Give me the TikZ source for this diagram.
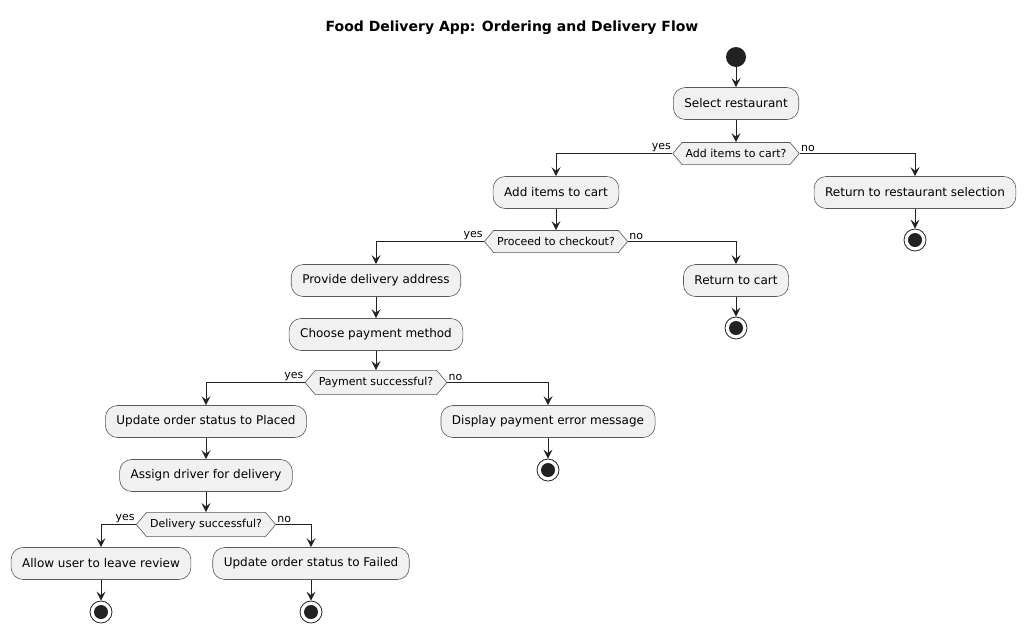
\documentclass[tikz,border=0pt]{standalone}
\usepackage{fontspec}
\setmainfont{DejaVu Sans}
\usetikzlibrary{shapes.symbols,arrows.meta,positioning}
\definecolor{actfill}{HTML}{F1F1F1}
\definecolor{ink}{HTML}{222222}

\begin{document}
\begin{tikzpicture}[x=1pt, y=-1pt,
  action/.style={draw=black!65, fill=actfill, line width=.6pt, rounded corners=12pt, minimum height=32pt, inner xsep=11pt, font=\fontsize{12}{14}\selectfont},
  decide/.style={signal, signal to=west and east, signal pointer angle=100, draw=black!65, fill=actfill, line width=.6pt, inner xsep=3.5pt, inner ysep=6.8pt, font=\fontsize{11}{13}\selectfont},
  initnode/.style={circle, fill=ink, minimum size=20pt, inner sep=0pt},
  endnode/.style={circle, draw=ink, line width=.8pt, minimum size=22pt, inner sep=0pt,
    path picture={\fill[ink] (path picture bounding box.center) circle (7pt);}},
  flow/.style={draw=ink, line width=.9pt, -{Stealth[length=9pt, width=9pt, inset=3.5pt]}},
  lbl/.style={font=\fontsize{11}{13}\selectfont, inner sep=1pt}]
  \useasboundingbox (0,0) rectangle (1024,633);

  % title
  \node[font=\fontsize{14}{16}\selectfont\bfseries] (title) at (512,28) {Food Delivery App: Ordering and Delivery Flow};

  % restaurant and cart
  \node[initnode] (begin) at (736,57) {};
  \node[action] (selrest) at (736,103.5) {Select restaurant};
  \node[decide] (additems) at (736,153.5) {Add items to cart?};
  \node[action] (cart) at (556,192.5) {Add items to cart};
  \node[action] (backrest) at (915,192.5) {Return to restaurant selection};
  \node[endnode] (end1) at (915,240) {};
  \node[decide] (checkout) at (556,241.5) {Proceed to checkout?};
  \node[action] (backcart) at (736,280.5) {Return to cart};
  \node[endnode] (end2) at (736,328) {};

  % address and payment
  \node[action] (address) at (376,280.5) {Provide delivery address};
  \node[action] (paymethod) at (376,334.5) {Choose payment method};
  \node[decide] (payok) at (376,382.5) {Payment successful?};
  \node[action] (placed) at (206,421.5) {Update order status to Placed};
  \node[action] (payerr) at (548,421.5) {Display payment error message};
  \node[endnode] (end3) at (548,470) {};

  % delivery
  \node[action] (driver) at (206,475.5) {Assign driver for delivery};
  \node[decide] (delivok) at (206,524.5) {Delivery successful?};
  \node[action] (review) at (101,563.5) {Allow user to leave review};
  \node[action] (failed) at (311,563.5) {Update order status to Failed};
  \node[endnode] (end4) at (101,612) {};
  \node[endnode] (end5) at (311,612) {};

  % connectors
  \draw[flow] (begin) -- (selrest);
  \draw[flow] (selrest) -- (additems.north);
  \draw[flow] (additems.west) node[lbl, above left] {yes} -| (cart.north);
  \draw[flow] (additems.east) node[lbl, above right] {no} -| (backrest.north);
  \draw[flow] (backrest) -- (end1);
  \draw[flow] (cart) -- (checkout.north);
  \draw[flow] (checkout.west) node[lbl, above left] {yes} -| (address.north);
  \draw[flow] (checkout.east) node[lbl, above right] {no} -| (backcart.north);
  \draw[flow] (backcart) -- (end2);
  \draw[flow] (address) -- (paymethod);
  \draw[flow] (paymethod) -- (payok.north);
  \draw[flow] (payok.west) node[lbl, above left] {yes} -| (placed.north);
  \draw[flow] (payok.east) node[lbl, above right] {no} -| (payerr.north);
  \draw[flow] (payerr) -- (end3);
  \draw[flow] (placed) -- (driver);
  \draw[flow] (driver) -- (delivok.north);
  \draw[flow] (delivok.west) node[lbl, above left] {yes} -| (review.north);
  \draw[flow] (delivok.east) node[lbl, above right] {no} -| (failed.north);
  \draw[flow] (review) -- (end4);
  \draw[flow] (failed) -- (end5);
\end{tikzpicture}
\end{document}
